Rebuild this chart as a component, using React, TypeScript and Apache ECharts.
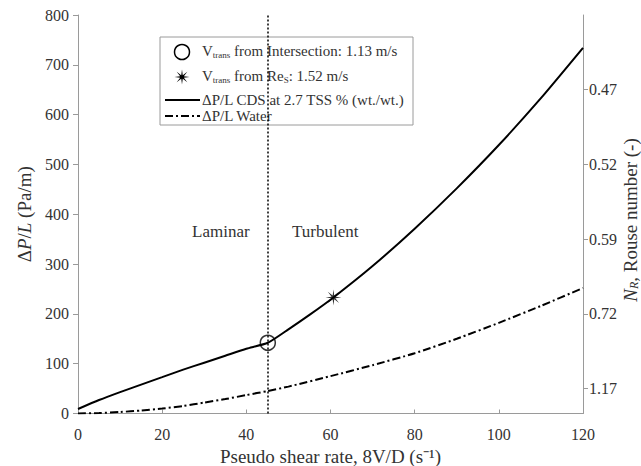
import React, { useEffect, useRef } from "react";
import * as echarts from "echarts";

// ---- data ----
const cdsShear = [0, 5, 10, 15, 20, 25, 30, 35, 40, 45.1, 50, 55, 60.7, 70, 80, 90, 100, 110, 120];
const cdsDP = [9, 27, 43, 58, 73, 88, 102, 116, 130, 142, 169, 198, 233, 296, 371, 452, 539, 633, 734];
const waterShear = [0, 5, 10, 15, 20, 25, 30, 35, 40, 45, 50, 60, 70, 80, 90, 100, 110, 120];
const waterDP = [0, 1, 3, 6, 10, 15, 22, 29, 37, 45, 54, 75, 97, 121, 150, 182, 216, 252];
const intersectionPoint = [45.1, 142];
const reSPoint = [60.7, 233];
const transitionShear = 45.1;
const rouseTickPos = [50, 200, 350, 500, 650];
const rouseTickLabels = ["1.17", "0.72", "0.59", "0.52", "0.47"];
const legendNames = [
  "V{sub|trans} from Intersection: 1.13 m/s",
  "V{sub|trans} from Re{sub|S}: 1.52 m/s",
  "ΔP/L CDS at 2.7 TSS % (wt./wt.)",
  "ΔP/L Water",
];
const rightAxisName = "{i|N}{s|R}, Rouse number (-)";

const FONT = "'Liberation Serif', 'Times New Roman', serif";
const TXT = "#333";
const AX = "#9a9a9a";

function starPoints(cx: number, cy: number, R: number, r: number): number[][] {
  const pts: number[][] = [];
  for (let k = 0; k < 16; k++) {
    const a = (k * Math.PI) / 8;
    const rr = k % 2 === 0 ? R : r;
    pts.push([cx + rr * Math.cos(a), cy + rr * Math.sin(a)]);
  }
  return pts;
}

function starPath(): string {
  const pts = starPoints(0, 0, 10, 2.6);
  return "path://" + pts.map((p, k) => (k === 0 ? "M" : "L") + p[0].toFixed(2) + " " + p[1].toFixed(2)).join(" ") + " Z";
}

export default function App() {
  const ref = useRef<HTMLDivElement>(null);
  useEffect(() => {
    document.body.style.margin = "0";
    if (!ref.current) return;
    const chart = echarts.init(ref.current, undefined, { renderer: "svg" });
    const richSub = {
      sub: { fontSize: 9, fontFamily: FONT, fill: TXT, verticalAlign: "bottom", padding: [7, 0, 0, 0] },
    };
    const legTextStyle = (t: string) => ({
      text: t,
      fontFamily: FONT,
      fontSize: 15,
      fill: TXT,
      rich: richSub,
      verticalAlign: "middle",
    });
    const LX = 160, LY = 37;
    chart.setOption({
      animation: false,
      backgroundColor: "#fff",
      grid: { left: 78, right: 58, top: 15, bottom: 52.5, containLabel: false, outerBoundsMode: "none" },
      xAxis: {
        type: "value",
        min: 0,
        max: 120,
        interval: 20,
        name: "Pseudo shear rate, 8V/D (s⁻¹)",
        nameLocation: "middle",
        nameGap: 33,
        nameTextStyle: { fontFamily: FONT, fontSize: 19, color: TXT },
        axisLine: { lineStyle: { color: AX, width: 1 } },
        axisTick: { inside: true, length: 4, lineStyle: { color: AX } },
        axisLabel: { fontFamily: FONT, fontSize: 16, color: TXT, margin: 13 },
        splitLine: { show: false },
      },
      yAxis: [
        {
          type: "value",
          min: 0,
          max: 800,
          interval: 100,
          name: "Δ{i|P}/{i|L} (Pa/m)",
          nameLocation: "middle",
          nameGap: 32,
          nameRotate: 90,
          nameTextStyle: {
            fontFamily: FONT,
            fontSize: 19,
            color: TXT,
            rich: { i: { fontFamily: FONT, fontSize: 19, color: TXT, fontStyle: "italic" } },
          },
          axisLine: { show: true, lineStyle: { color: AX, width: 1 } },
          axisTick: { show: true, length: 5, lineStyle: { color: AX } },
          axisLabel: { fontFamily: FONT, fontSize: 16, color: TXT, margin: 9 },
          splitLine: { show: false },
        },
        {
          type: "value",
          position: "right",
          min: 0,
          max: 800,
          axisLine: { show: true, lineStyle: { color: AX, width: 1 } },
          axisTick: { show: true, length: 5, lineStyle: { color: AX }, customValues: rouseTickPos },
          axisLabel: {
            fontFamily: FONT,
            fontSize: 16,
            color: TXT,
            margin: 6,
            customValues: rouseTickPos,
            formatter: (v: number) => {
              const i = rouseTickPos.indexOf(v);
              return i >= 0 ? rouseTickLabels[i] : "";
            },
          },
          splitLine: { show: false },
        },
      ],
      graphic: [
        { type: "text", left: 192, top: 223, style: { text: "Laminar", fontFamily: FONT, fontSize: 17, fill: TXT } },
        { type: "text", left: 292, top: 223, style: { text: "Turbulent", fontFamily: FONT, fontSize: 17, fill: TXT } },
        {
          type: "text",
          x: 630,
          y: 220,
          rotation: Math.PI / 2,
          style: {
            text: rightAxisName,
            fontFamily: FONT,
            fontSize: 19,
            fill: TXT,
            align: "center",
            verticalAlign: "middle",
            rich: {
              i: { fontFamily: FONT, fontSize: 19, fill: TXT, fontStyle: "italic" },
              s: { fontFamily: FONT, fontSize: 12, fill: TXT, fontStyle: "italic", verticalAlign: "bottom", padding: [6, 0, 0, 0] },
            },
          },
        },
        {
          type: "group",
          z: 100,
          children: [
            { type: "rect", shape: { x: LX, y: LY, width: 253, height: 88 }, style: { fill: "#fff", stroke: AX, lineWidth: 1 } },
            { type: "circle", shape: { cx: LX + 22, cy: LY + 15, r: 7.5 }, style: { fill: "none", stroke: "#000", lineWidth: 1.5 } },
            { type: "text", x: LX + 42, y: LY + 14, style: legTextStyle(legendNames[0]) },
            { type: "polygon", shape: { points: starPoints(LX + 22, LY + 40, 7.5, 2) }, style: { fill: "#000" } },
            { type: "text", x: LX + 42, y: LY + 39, style: legTextStyle(legendNames[1]) },
            { type: "line", shape: { x1: LX + 5, y1: LY + 63, x2: LX + 40, y2: LY + 63 }, style: { stroke: "#000", lineWidth: 2 } },
            { type: "text", x: LX + 42, y: LY + 63, style: legTextStyle(legendNames[2]) },
            { type: "line", shape: { x1: LX + 5, y1: LY + 79, x2: LX + 40, y2: LY + 79 }, style: { stroke: "#000", lineWidth: 2, lineDash: [8, 3, 2, 3] } },
            { type: "text", x: LX + 42, y: LY + 79, style: legTextStyle(legendNames[3]) },
          ],
        },
      ],
      series: [
        {
          name: legendNames[2],
          type: "line",
          data: cdsShear.map((x, i) => [x, cdsDP[i]]),
          symbol: "none",
          smooth: 0.2,
          lineStyle: { color: "#000", width: 2 },
          itemStyle: { color: "#000" },
          z: 3,
          markLine: {
            silent: true,
            symbol: "none",
            label: { show: false },
            lineStyle: { color: "#000", type: [2, 2], width: 1.5 },
            data: [{ xAxis: transitionShear }],
          },
        },
        {
          name: legendNames[3],
          type: "line",
          data: waterShear.map((x, i) => [x, waterDP[i]]),
          symbol: "none",
          smooth: 0.2,
          lineStyle: { color: "#000", width: 2, type: [8, 3, 2, 3] },
          itemStyle: { color: "#000" },
          z: 3,
        },
        {
          name: legendNames[0],
          type: "scatter",
          data: [intersectionPoint],
          symbol: "circle",
          symbolSize: 15,
          itemStyle: { color: "rgba(0,0,0,0)", borderColor: "#000", borderWidth: 1.5 },
          z: 5,
        },
        {
          name: legendNames[1],
          type: "scatter",
          data: [reSPoint],
          symbol: starPath(),
          symbolSize: 16,
          itemStyle: { color: "#000" },
          z: 5,
        },
      ],
    });
    return () => chart.dispose();
  }, []);
  return <div ref={ref} style={{ width: 641, height: 466 }} />;
}
